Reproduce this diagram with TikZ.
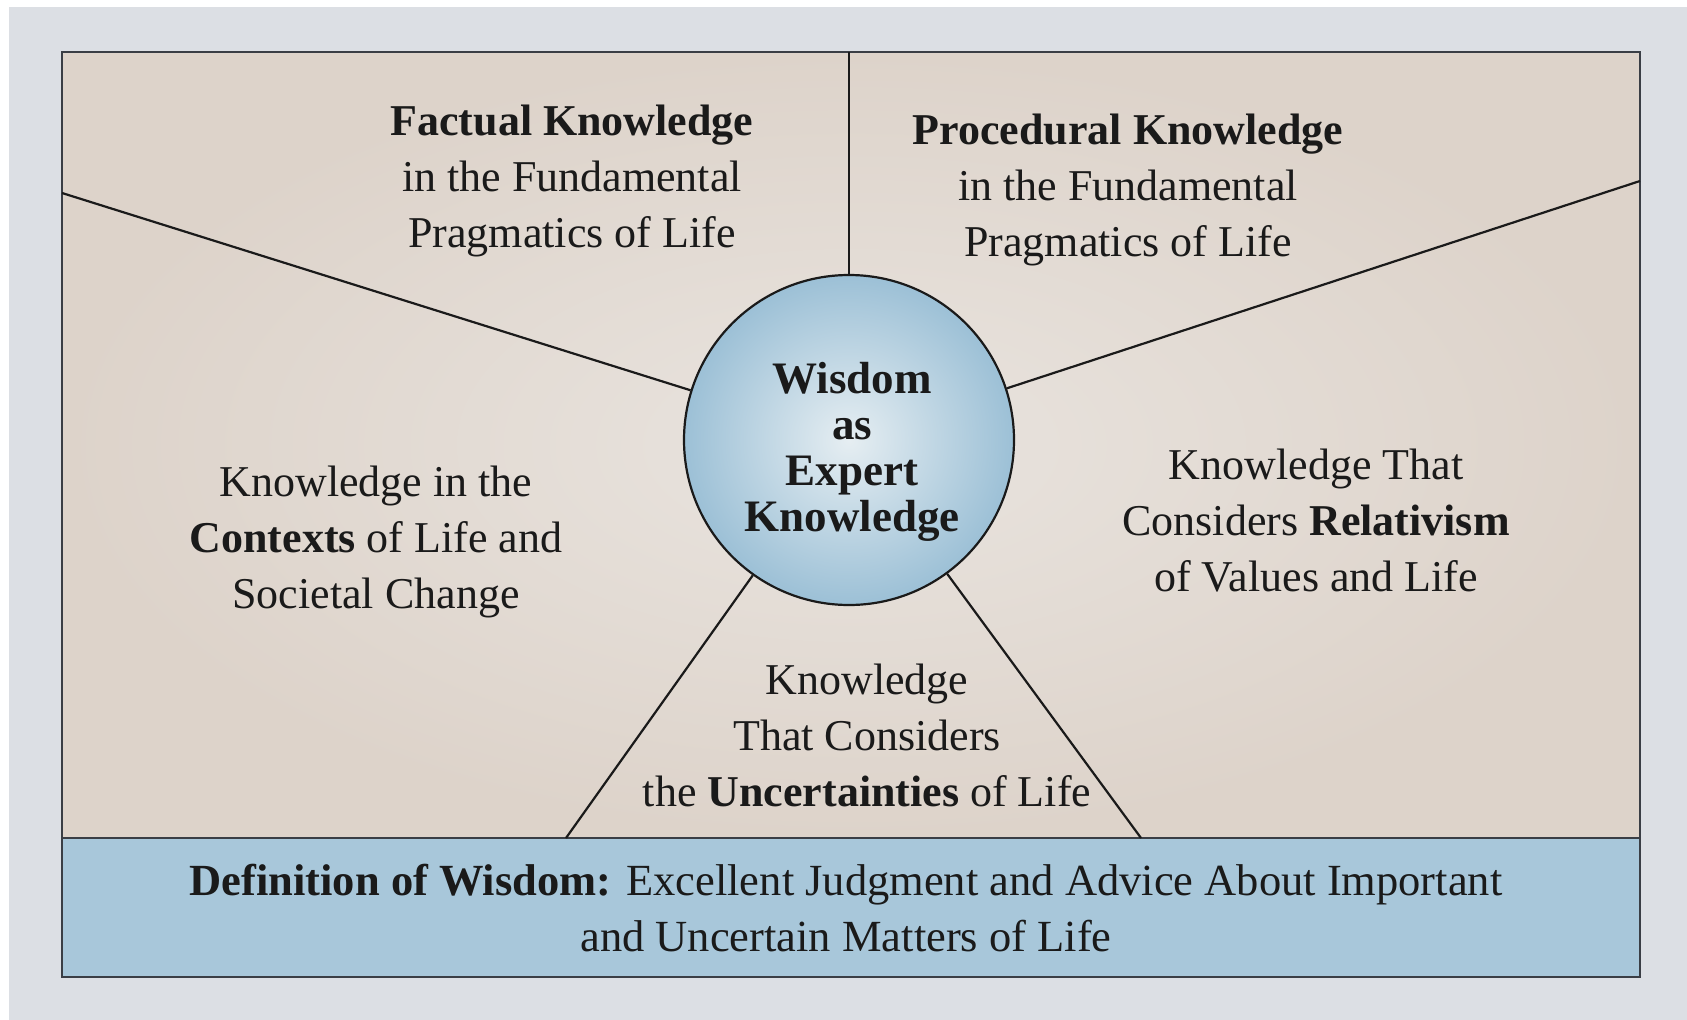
\documentclass[tikz,border=0pt]{standalone}
\usepackage{fontspec}
\setmainfont{Liberation Serif}
\definecolor{pagegrey}{HTML}{DCDFE4}
\definecolor{beige}{HTML}{DDD3CA}
\definecolor{beigelight}{HTML}{E9E4DF}
\definecolor{bandblue}{HTML}{A8C7DA}
\definecolor{circout}{HTML}{9CC0D6}
\definecolor{circin}{HTML}{E6EEF2}
\definecolor{ink}{HTML}{1A1A1A}
\definecolor{frame}{HTML}{3A3E45}
\tikzset{
  divline/.style={draw=ink, line width=2.2pt},
  lbl/.style={align=center, text=ink, inner sep=0pt, font=\fontsize{44}{56}\selectfont},
  hub/.style={circle, draw=ink, line width=2.2pt, minimum size=330pt, inner sep=0pt,
              shading=radial, inner color=circin, outer color=circout}
}
\begin{document}
\begin{tikzpicture}[x=1pt,y=-1pt]
\useasboundingbox (0,0) rectangle (1687,1020);
\fill[white] (0,0) rectangle (1687,1020);
\fill[pagegrey] (9,7) rectangle (1687,1020);
% main panel
\shade[inner color=beigelight, outer color=beige] (62,52) rectangle (1640,838);
\fill[bandblue] (62,838) rectangle (1640,977);
\draw[frame, line width=2.2pt] (62,52) rectangle (1640,977);
\draw[frame, line width=2.2pt] (62,838) -- (1640,838);
% coordinates on the frame
\coordinate (top) at (849,52);
\coordinate (lft) at (62,193);
\coordinate (rgt) at (1640,181);
\coordinate (bl) at (566,838);
\coordinate (br) at (1141,838);
% hub
\node[hub] (c) at (849,440) {};
\draw[divline] (top) -- (c);
\draw[divline] (lft) -- (c);
\draw[divline] (rgt) -- (c);
\draw[divline] (bl) -- (c);
\draw[divline] (br) -- (c);
\node[lbl, font=\fontsize{45}{46}\selectfont\bfseries] (ct) at (852,452) {Wisdom\\as\\Expert\\Knowledge};
% labels
\node[lbl] (fact) at (572,181) {\textbf{Factual Knowledge}\\in the Fundamental\\Pragmatics of Life};
\node[lbl] (proc) at (1128,190) {\textbf{Procedural Knowledge}\\in the Fundamental\\Pragmatics of Life};
\node[lbl] (ctx) at (376,542) {Knowledge in the\\\textbf{Contexts} of Life and\\Societal Change};
\node[lbl] (rel) at (1316,521) {Knowledge That\\Considers \textbf{Relativism}\\of Values and Life};
\node[lbl] (unc) at (867,735) {Knowledge\\That Considers\\the \textbf{Uncertainties} of Life};
\node[lbl, font=\fontsize{44.5}{56}\selectfont] (def) at (846,908) {\textbf{Definition of Wisdom:} Excellent Judgment and Advice About Important\\and Uncertain Matters of Life};
\end{tikzpicture}
\end{document}
